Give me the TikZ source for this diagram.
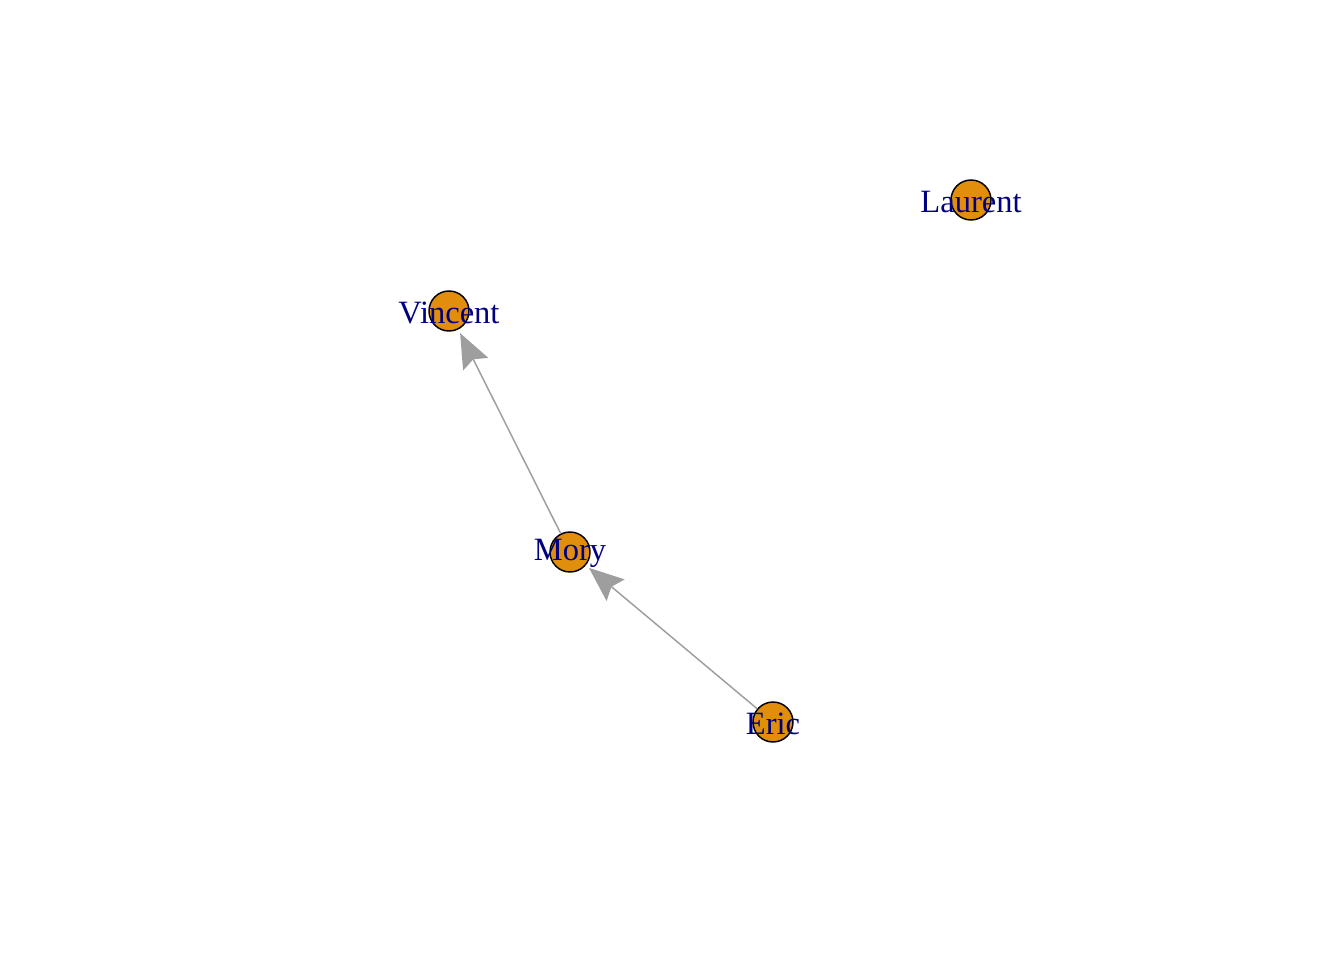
\documentclass[tikz,border=0pt]{standalone}
\usepackage{fontspec}
\setmainfont{Liberation Serif}
\usetikzlibrary{arrows.meta}
\definecolor{vfill}{RGB}{224,142,11}
\definecolor{vlabel}{RGB}{0,0,128}
\definecolor{edgegray}{RGB}{158,158,158}

\begin{document}
\begin{tikzpicture}[x=0.75pt,y=-0.75pt,
    vertex/.style={circle, draw=black, fill=vfill, line width=1.1pt,
        minimum size=30pt, inner sep=0pt},
    vname/.style={text=vlabel, font=\fontsize{24.4}{27}\selectfont, inner sep=0pt,
        yshift=-1.2pt},
    edge/.style={draw=edgegray, line width=1.1pt,
        -{Stealth[length=26pt, width=21pt, inset=4pt]}, shorten >=3pt}]
    % Fix the page size
    \useasboundingbox (0,0) rectangle (1344,960);
    % Draw the vertices
    \node[vertex] (laurent) at (971,200) {};
    \node[vertex] (vincent) at (449,311) {};
    \node[vertex] (mory) at (570,552) {};
    \node[vertex] (eric) at (773,722) {};
    % Draw the edges
    \draw[edge] (mory) -- (vincent);
    \draw[edge] (eric) -- (mory);
    % Label the vertices
    \node[vname] at (laurent) {Laurent};
    \node[vname] at (vincent) {Vincent};
    \node[vname] at (mory) {Mory};
    \node[vname] at (eric) {Eric};
\end{tikzpicture}
\end{document}
